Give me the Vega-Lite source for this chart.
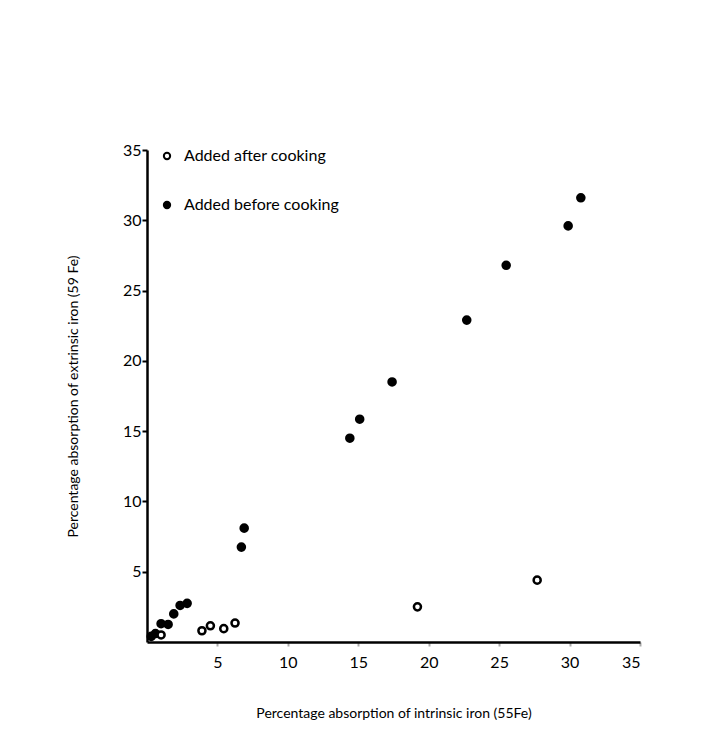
{
  "$schema": "https://vega.github.io/schema/vega-lite/v6.json",
  "autosize": "none",
  "width": 493,
  "height": 492,
  "padding": {"left": 147, "top": 150, "right": 88, "bottom": 102},
  "background": "white",
  "config": {
    "view": {"stroke": null},
    "font": "Lato",
    "axis": {"grid": false, "domainColor": "black", "domainWidth": 2.5, "labelColor": "black", "titleColor": "black", "labelFont": "Lato", "titleFont": "Lato"}
  },
  "data": {
    "values": [
      {"intrinsic": 0.3, "extrinsic": 0.4, "group": "Added before cooking"},
      {"intrinsic": 0.6, "extrinsic": 0.6, "group": "Added before cooking"},
      {"intrinsic": 1.0, "extrinsic": 1.3, "group": "Added before cooking"},
      {"intrinsic": 1.5, "extrinsic": 1.25, "group": "Added before cooking"},
      {"intrinsic": 1.9, "extrinsic": 2.0, "group": "Added before cooking"},
      {"intrinsic": 2.35, "extrinsic": 2.6, "group": "Added before cooking"},
      {"intrinsic": 2.85, "extrinsic": 2.75, "group": "Added before cooking"},
      {"intrinsic": 6.7, "extrinsic": 6.75, "group": "Added before cooking"},
      {"intrinsic": 6.9, "extrinsic": 8.1, "group": "Added before cooking"},
      {"intrinsic": 14.4, "extrinsic": 14.5, "group": "Added before cooking"},
      {"intrinsic": 15.1, "extrinsic": 15.85, "group": "Added before cooking"},
      {"intrinsic": 17.4, "extrinsic": 18.5, "group": "Added before cooking"},
      {"intrinsic": 22.7, "extrinsic": 22.9, "group": "Added before cooking"},
      {"intrinsic": 25.5, "extrinsic": 26.8, "group": "Added before cooking"},
      {"intrinsic": 29.9, "extrinsic": 29.6, "group": "Added before cooking"},
      {"intrinsic": 30.8, "extrinsic": 31.6, "group": "Added before cooking"},
      {"intrinsic": 1.0, "extrinsic": 0.5, "group": "Added after cooking"},
      {"intrinsic": 3.9, "extrinsic": 0.8, "group": "Added after cooking"},
      {"intrinsic": 4.5, "extrinsic": 1.15, "group": "Added after cooking"},
      {"intrinsic": 5.45, "extrinsic": 0.95, "group": "Added after cooking"},
      {"intrinsic": 6.25, "extrinsic": 1.35, "group": "Added after cooking"},
      {"intrinsic": 19.2, "extrinsic": 2.5, "group": "Added after cooking"},
      {"intrinsic": 27.7, "extrinsic": 4.4, "group": "Added after cooking"}
    ]
  },
  "mark": {"type": "point", "shape": "circle", "size": 50, "stroke": "black", "strokeWidth": 2.5, "opacity": 1},
  "encoding": {
    "x": {
      "field": "intrinsic", "type": "quantitative",
      "scale": {"domain": [0, 35], "nice": false, "zero": true},
      "axis": {
        "values": [5, 10, 15, 20, 25, 30, 35],
        "title": "Percentage absorption of intrinsic iron (55Fe)",
        "titleFontSize": 14, "titleFontWeight": "normal", "titlePadding": 36,
        "labelFontSize": 16, "labelPadding": 8,
        "tickSize": 4, "tickColor": "#aaaaaa", "tickWidth": 2
      }
    },
    "y": {
      "field": "extrinsic", "type": "quantitative",
      "scale": {"domain": [0, 35], "nice": false, "zero": true},
      "axis": {
        "values": [5, 10, 15, 20, 25, 30, 35],
        "title": "Percentage absorption of extrinsic iron (59 Fe)",
        "titleFontSize": 14, "titleFontWeight": "normal", "titlePadding": 42,
        "labelFontSize": 16, "labelPadding": 1,
        "tickSize": 5, "tickColor": "black", "tickWidth": 2
      }
    },
    "fill": {
      "field": "group", "type": "nominal",
      "scale": {"domain": ["Added after cooking", "Added before cooking"], "range": ["white", "black"]},
      "legend": {
        "title": null, "orient": "none", "legendX": 12, "legendY": -2,
        "labelFontSize": 16, "labelColor": "black", "labelOffset": 9,
        "symbolType": "circle", "symbolSize": 40, "symbolStrokeColor": "black", "symbolStrokeWidth": 2,
        "rowPadding": 33
      }
    }
  }
}
